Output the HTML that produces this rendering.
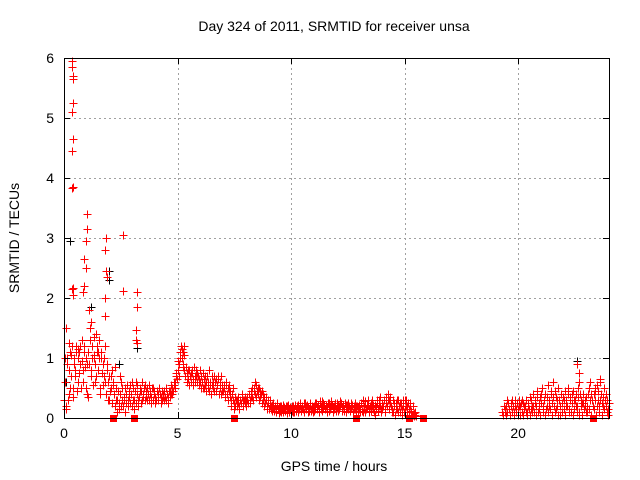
<!DOCTYPE html>
<html><head><meta charset="utf-8"><style>
body{margin:0;background:#fff}
svg{display:block;font-family:"Liberation Sans",Arial,sans-serif}
</style></head><body>
<svg id="c" width="640" height="480"></svg>
<script>
const seg1Start=0, seg1Step=0.05;
const seg1Values=[
0.3,0.6,0.2,0.9,0.4,1.1,0.7,1.2,0.5,1.0,0.8,1.2,0.6,1.1,0.9,0.5,1.3,0.8,1.2,1.0,
0.4,1.1,0.9,1.5,0.7,1.2,1.0,0.6,1.4,1.1,0.8,1.3,0.5,1.0,0.9,0.7,1.2,0.4,0.8,0.6,
0.3,0.5,0.8,0.6,0.4,0.2,0.5,0.3,0.15,0.4,0.6,0.3,0.2,0.35,0.5,0.25,0.3,0.45,0.55,0.4,
0.2,0.5,0.3,0.6,0.4,0.2,0.35,0.5,0.45,0.3,0.4,0.55,0.35,0.5,0.4,0.3,0.45,0.35,0.5,0.4,
0.35,0.3,0.45,0.4,0.5,0.35,0.3,0.4,0.45,0.35,0.3,0.4,0.35,0.45,0.4,0.5,0.45,0.55,0.6,0.7,
0.8,0.9,1.1,1.2,1.0,0.9,0.8,0.7,0.75,0.65,0.8,0.7,0.6,0.75,0.65,0.7,0.8,0.6,0.7,0.65,
0.6,0.7,0.5,0.65,0.55,0.6,0.7,0.5,0.45,0.6,0.55,0.5,0.7,0.6,0.45,0.55,0.65,0.5,0.4,0.55,
0.45,0.5,0.4,0.55,0.5,0.45,0.35,0.3,0.4,0.5,0.25,0.2,0.3,0.25,0.2,0.3,0.25,0.35,0.3,0.25,
0.3,0.35,0.25,0.4,0.3,0.45,0.35,0.5,0.4,0.55,0.45,0.4,0.5,0.35,0.45,0.3,0.35,0.25,0.3,0.2,
0.25,0.2,0.15,0.22,0.18,0.12,0.2,0.15,0.25,0.18,0.12,0.2,0.15,0.1,0.18,0.12,0.2,0.15,0.1,0.18,
0.15,0.12,0.2,0.1,0.15,0.18,0.22,0.15,0.2,0.12,0.18,0.25,0.2,0.15,0.22,0.18,0.12,0.2,0.15,0.18,
0.2,0.15,0.25,0.18,0.22,0.15,0.2,0.28,0.18,0.22,0.15,0.2,0.18,0.25,0.15,0.2,0.22,0.18,0.15,0.2,
0.18,0.22,0.15,0.2,0.25,0.18,0.2,0.15,0.22,0.18,0.25,0.2,0.15,0.18,0.22,0.2,0.15,0.12,0.2,0.18,
0.22,0.15,0.25,0.1,0.2,0.28,0.15,0.18,0.22,0.12,0.25,0.2,0.15,0.1,0.22,0.18,0.25,0.3,0.2,0.15,
0.25,0.2,0.3,0.15,0.35,0.4,0.3,0.25,0.2,0.15,0.1,0.2,0.25,0.15,0.3,0.2,0.1,0.25,0.15,0.2,
0.3,0.2,0.1,0.25,0.15,0.2,0.1,0.05,0.08,0.05,0.03];
const seg1bStart=0.025, seg1bStep=0.05;
const seg1bValues=[
0.6,0.15,1.0,0.3,0.8,0.5,1.05,0.35,0.9,0.7,1.1,0.45,1.0,0.75,1.2,0.95,0.6,1.1,0.85,0.5,
0.9,0.35,1.3,0.8,1.0,0.55,1.35,0.9,0.7,1.2,1.0,0.4,1.1,0.75,0.55,1.0,0.6,0.9,0.3,0.7,
0.45,0.7,0.25,0.55,0.85,0.3,0.1,0.45,0.25,0.7,0.2,0.5,0.3,0.1,0.4,0.55,0.2,0.35,0.25,0.6,
0.3,0.15,0.45,0.25,0.55,0.3,0.45,0.25,0.6,0.35,0.5,0.3,0.45,0.3,0.55,0.4,0.25,0.5,0.3,0.45,
0.25,0.45,0.3,0.5,0.4,0.25,0.45,0.35,0.3,0.5,0.4,0.25,0.45,0.35,0.55,0.4,0.6,0.5,0.75,0.65,
0.95,0.7,1.0,1.15,0.85,1.05,0.7,0.85,0.6,0.8,0.55,0.75,0.8,0.55,0.85,0.6,0.7,0.75,0.55,0.8,
0.5,0.6,0.75,0.5,0.7,0.45,0.6,0.8,0.55,0.4,0.7,0.6,0.45,0.65,0.55,0.7,0.4,0.6,0.7,0.45,
0.55,0.35,0.6,0.4,0.3,0.55,0.45,0.2,0.3,0.15,0.35,0.3,0.2,0.35,0.15,0.25,0.4,0.2,0.3,0.35,
0.2,0.3,0.4,0.25,0.35,0.5,0.3,0.45,0.6,0.35,0.5,0.3,0.45,0.4,0.25,0.4,0.2,0.35,0.15,0.3,
0.15,0.3,0.2,0.12,0.25,0.2,0.1,0.22,0.15,0.08,0.2,0.1,0.22,0.15,0.12,0.2,0.08,0.22,0.15,0.1,
0.2,0.1,0.15,0.22,0.12,0.2,0.1,0.25,0.12,0.2,0.15,0.1,0.25,0.2,0.1,0.15,0.25,0.12,0.2,0.1,
0.12,0.25,0.15,0.22,0.1,0.28,0.15,0.12,0.25,0.15,0.22,0.1,0.25,0.12,0.2,0.28,0.1,0.2,0.25,0.12,
0.25,0.12,0.2,0.28,0.12,0.22,0.12,0.25,0.1,0.22,0.15,0.12,0.25,0.2,0.1,0.15,0.25,0.2,0.1,0.15,
0.1,0.25,0.12,0.3,0.15,0.1,0.22,0.3,0.1,0.2,0.12,0.3,0.22,0.05,0.15,0.3,0.12,0.2,0.35,0.1,
0.15,0.3,0.1,0.25,0.2,0.3,0.15,0.35,0.1,0.3,0.25,0.05,0.15,0.3,0.1,0.25,0.2,0.05,0.3,0.1,
0.15,0.3,0.2,0.05,0.25,0.12,0.05,0.2,0.03,0.1];
const seg2Start=19.3, seg2Step=0.05;
const seg2Values=[
0.1,0.05,0.15,0.2,0.1,0.25,0.15,0.05,0.2,0.3,0.1,0.2,0.15,0.25,0.05,0.3,0.2,0.1,0.25,0.15,
0.2,0.3,0.1,0.25,0.35,0.15,0.2,0.4,0.1,0.3,0.2,0.45,0.15,0.35,0.25,0.5,0.1,0.3,0.4,0.2,
0.55,0.3,0.15,0.45,0.25,0.6,0.1,0.35,0.2,0.5,0.3,0.05,0.4,0.25,0.15,0.45,0.3,0.2,0.5,0.1,
0.35,0.25,0.45,0.15,0.3,0.4,0.2,0.5,0.1,0.3,0.25,0.4,0.15,0.2,0.35,0.1,0.5,0.6,0.4,0.3,
0.2,0.15,0.45,0.55,0.3,0.2,0.6,0.4,0.25,0.35,0.5,0.2,0.3,0.15,0.25];
const seg2bStart=19.325, seg2bStep=0.05;
const seg2bValues=[
0.05,0.2,0.1,0.05,0.3,0.15,0.05,0.25,0.1,0.2,0.05,0.3,0.1,0.15,0.2,0.05,0.25,0.3,0.05,0.2,
0.1,0.05,0.2,0.15,0.05,0.3,0.1,0.2,0.25,0.05,0.35,0.1,0.25,0.05,0.4,0.2,0.3,0.05,0.15,0.35,
0.1,0.2,0.4,0.05,0.35,0.2,0.45,0.15,0.3,0.05,0.2,0.4,0.1,0.35,0.3,0.05,0.2,0.4,0.15,0.3,
0.1,0.4,0.05,0.3,0.2,0.1,0.35,0.05,0.4,0.2,0.05,0.25,0.3,0.1,0.2,0.4,0.15,0.3,0.05,0.2,
0.4,0.3,0.05,0.2,0.45,0.1,0.3,0.05,0.2,0.15,0.3,0.4,0.1,0.05];
const spikeTimes=[0.05,0.35,0.35,0.38,0.4,0.38,0.35,0.4,0.35,0.4,0.35,0.35,0.4,0.4,0.1,1.0,1.0,0.95,0.9,0.95,0.9,0.85,1.1,1.2,1.85,1.8,1.85,1.9,1.8,1.8,2.6,2.6,3.2,3.2,3.15,3.15,3.2,1.5,22.6,22.7,22.7,23.6,23.4,5.3,5.25,0.2,0.6,1.3];
const spikeValues=[1.0,5.95,5.85,5.65,5.7,5.25,5.1,4.65,4.45,3.85,3.83,2.15,2.17,2.05,1.5,3.4,3.15,2.95,2.65,2.5,2.2,2.1,1.8,1.6,3.0,2.8,2.45,2.35,2.0,1.7,3.05,2.12,2.1,1.85,1.47,1.3,1.25,1.1,0.9,0.75,0.6,0.65,0.5,1.2,1.1,1.25,1.15,1.05];
const blackTimes=[0.26,2.0,2.0,3.2,2.4,22.6,0.1,1.2];
const blackValues=[2.95,2.3,2.45,1.17,0.9,0.95,0.6,1.85];
const zeroTimes=[2.15,3.1,7.5,12.85,15.2,15.8,23.3];
const xTicks=[0,5,10,15,20];
const yTicks=[0,1,2,3,4,5,6];

const L=64,R=609,T=58,B=418;
const X=t=>L+t/24*(R-L), Y=v=>B-v/6*(B-T);
const svg=document.getElementById('c');
const NS='http://www.w3.org/2000/svg';
function mk(tag,attrs,parent){const e=document.createElementNS(NS,tag);for(const k in attrs)e.setAttribute(k,attrs[k]);(parent||svg).appendChild(e);return e;}

const grid=mk('g',{});


xTicks.forEach(t=>{if(t>0){const x=Math.round(X(t))+0.5;mk('line',{x1:x,x2:x,y1:T,y2:B,stroke:'#a0a0a0','stroke-dasharray':'2,3'},grid);}});
yTicks.forEach(v=>{if(v>0&&v<6){const y=Math.round(Y(v))+0.5;mk('line',{x1:L,x2:R,y1:y,y2:y,stroke:'#a0a0a0','stroke-dasharray':'2,3'},grid);}});

function plus(g,t,v,col){const x=Math.round(X(t))+0.5,y=Math.round(Y(v))+0.5;
 const p=mk('path',{d:`M${x-4},${y}h8M${x},${y-4}v8`,stroke:col,'stroke-width':1,fill:'none'},g);
 
 }

const gb=mk('g',{});


blackTimes.forEach((t,i)=>plus(gb,t,blackValues[i],'#000'));

const gr=mk('g',{});


seg1Values.forEach((v,i)=>plus(gr,seg1Start+i*seg1Step,v,'#f00'));
seg1bValues.forEach((v,i)=>plus(gr,seg1bStart+i*seg1bStep,v,'#f00'));
seg2Values.forEach((v,i)=>plus(gr,seg2Start+i*seg2Step,v,'#f00'));
seg2bValues.forEach((v,i)=>plus(gr,seg2bStart+i*seg2bStep,v,'#f00'));
spikeTimes.forEach((t,i)=>plus(gr,t,spikeValues[i],'#f00'));
zeroTimes.forEach(t=>{const r=mk('rect',{x:Math.round(X(t))-3,y:B-3,width:7,height:7,fill:'#f00'},gr);
 
 });

const ax=mk('g',{});


mk('rect',{x:L+0.5,y:T+0.5,width:R-L,height:B-T,fill:'none',stroke:'#000','stroke-width':1},ax);
xTicks.forEach(t=>{const x=Math.round(X(t))+0.5;mk('path',{d:`M${x},${B}v-6M${x},${T}v6`,stroke:'#000'},ax);
 const tx=mk('text',{x:X(t),y:B+20,'text-anchor':'middle','font-size':14},ax);tx.textContent=t;
 
 });
yTicks.forEach(v=>{const y=Math.round(Y(v))+0.5;mk('path',{d:`M${L},${y}h6M${R},${y}h-6`,stroke:'#000'},ax);
 const tx=mk('text',{x:L-10,y:Y(v)+5,'text-anchor':'end','font-size':14},ax);tx.textContent=v;
 
 });
</script>
<svg style="position:absolute;left:0;top:0" width="640" height="480">
<text x="334" y="31" text-anchor="middle" font-size="14" font-family="Liberation Sans,sans-serif">Day 324 of 2011, SRMTID for receiver unsa</text>
<text x="334" y="471" text-anchor="middle" font-size="14" font-family="Liberation Sans,sans-serif">GPS time / hours</text>
<text transform="translate(19,238) rotate(-90)" text-anchor="middle" font-size="14" font-family="Liberation Sans,sans-serif">SRMTID / TECUs</text>
</svg>
</body></html>
